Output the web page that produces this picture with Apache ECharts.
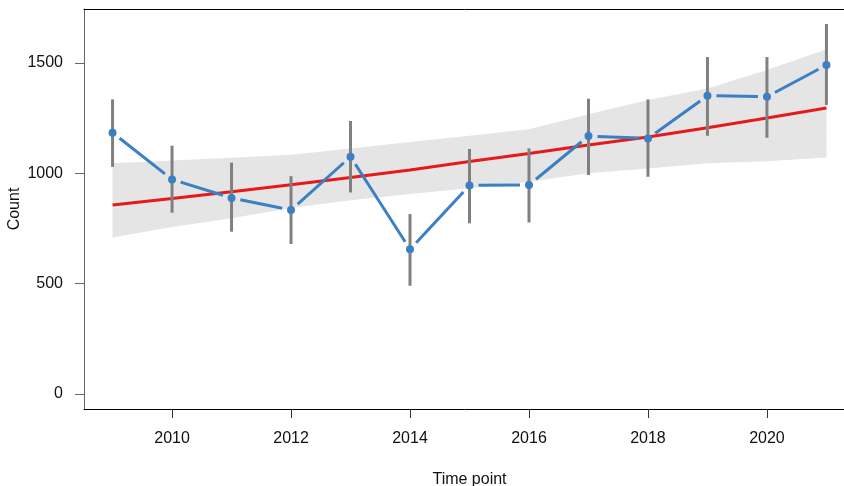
<!DOCTYPE html>
<html>
<head>
<meta charset="utf-8">
<script src="https://cdn.jsdelivr.net/npm/echarts@6/dist/echarts.min.js"></script>
<style>
  html, body {margin: 0; padding: 0; background: #fff;}
  #chart {width: 844px; height: 486px;}
</style>
</head>
<body>
<div id="chart"></div>
<script>
// time points and observed counts
const years = [2009, 2010, 2011, 2012, 2013, 2014, 2015, 2016, 2017, 2018, 2019, 2020, 2021];
const counts = [1184, 972, 888, 833, 1075, 655, 945, 947, 1169, 1158, 1352, 1347, 1491];
// error bar ends
const barLow = [1029, 821, 735, 679, 913, 490, 773, 777, 992, 984, 1170, 1161, 1310];
const barHigh = [1335, 1125, 1048, 987, 1237, 815, 1110, 1113, 1338, 1335, 1527, 1527, 1677];
// fitted trend and its band
const fitted = [856, 886, 916, 948, 981, 1015, 1053, 1090, 1128, 1165, 1206, 1251, 1296];
const bandLow = [709, 756, 796, 843, 878, 906, 932, 962, 1000, 1022, 1045, 1055, 1071];
const bandHigh = [1046, 1058, 1070, 1084, 1112, 1142, 1170, 1200, 1268, 1332, 1385, 1468, 1563];
// tick labels
const xTicks = [2010, 2012, 2014, 2016, 2018, 2020];
const yTicks = [0, 500, 1000, 1500];

const font = '"Liberation Sans", Arial, sans-serif';
const myChart = echarts.init(document.getElementById('chart'));

// gap left around every point on the connecting line
const gap = 9;

let option = {
    animation: false,
    grid: {left: 84, top: 9, right: -11, bottom: 77, containLabel: false, outerBoundsMode: 'none'},
    xAxis: [
        {
            type: 'value',
            min: 2008.52,
            max: 2021.48,
            name: 'Time point',
            nameLocation: 'middle',
            nameGap: 63,
            nameMoveOverlap: false,
            nameTextStyle: {color: '#111', fontSize: 16, fontFamily: font},
            axisLine: {show: true, onZero: false, lineStyle: {color: '#000', width: 1}},
            axisTick: {show: true, length: 9, customValues: xTicks, lineStyle: {color: '#333'}},
            axisLabel: {customValues: xTicks, margin: 22, color: '#111', fontSize: 16, fontFamily: font,
                formatter: v => String(v)},
            splitLine: {show: false}
        },
        {
            type: 'value',
            position: 'top',
            min: 2008.52,
            max: 2021.48,
            axisLine: {show: true, onZero: false, lineStyle: {color: '#000', width: 1}},
            axisTick: {show: false},
            axisLabel: {show: false},
            splitLine: {show: false}
        }
    ],
    yAxis: {
        type: 'value',
        min: -69,
        max: 1745,
        name: 'Count',
        nameLocation: 'middle',
        nameGap: 61,
        nameMoveOverlap: false,
        nameTextStyle: {color: '#111', fontSize: 16, fontFamily: font},
        axisLine: {show: true, onZero: false, lineStyle: {color: '#666', width: 1}},
        axisTick: {show: true, length: 9, customValues: yTicks, lineStyle: {color: '#666'}},
        axisLabel: {customValues: yTicks, margin: 21, color: '#111', fontSize: 16, fontFamily: font,
            formatter: v => String(v)},
        splitLine: {show: false}
    },
    series: [
        {
            // shaded band
            type: 'custom',
            z: 1,
            data: years.map((y, i) => [y, bandLow[i], bandHigh[i]]),
            renderItem: (params, api) => {
                if (params.dataIndex !== 0) return;
                let pts = [];
                years.forEach((y, i) => pts.push(api.coord([y, bandHigh[i]])));
                for (let i = years.length - 1; i >= 0; i--) pts.push(api.coord([years[i], bandLow[i]]));
                return {type: 'polygon', shape: {points: pts}, style: {fill: '#e5e5e5'}};
            }
        },
        {
            // fitted trend
            type: 'line',
            z: 2,
            data: years.map((y, i) => [y, fitted[i]]),
            showSymbol: false,
            lineStyle: {color: '#e41a1c', width: 3}
        },
        {
            // error bars
            type: 'custom',
            z: 3,
            data: years.map((y, i) => [y, barLow[i], barHigh[i]]),
            renderItem: (params, api) => {
                let a = api.coord([api.value(0), api.value(1)]);
                let b = api.coord([api.value(0), api.value(2)]);
                return {
                    type: 'line',
                    shape: {x1: a[0], y1: a[1], x2: b[0], y2: b[1]},
                    style: {stroke: '#808080', lineWidth: 3}
                };
            }
        },
        {
            // broken line between points
            type: 'custom',
            z: 4,
            data: years.map((y, i) => [y, counts[i]]),
            renderItem: (params, api) => {
                let i = params.dataIndex;
                if (i >= years.length - 1) return;
                let a = api.coord([years[i], counts[i]]);
                let b = api.coord([years[i + 1], counts[i + 1]]);
                let dx = b[0] - a[0], dy = b[1] - a[1];
                let len = Math.sqrt(dx * dx + dy * dy);
                if (len <= 2 * gap) return;
                let ux = dx / len, uy = dy / len;
                return {
                    type: 'line',
                    shape: {x1: a[0] + ux * gap, y1: a[1] + uy * gap, x2: b[0] - ux * gap, y2: b[1] - uy * gap},
                    style: {stroke: '#3a80c2', lineWidth: 3}
                };
            }
        },
        {
            type: 'scatter',
            z: 5,
            data: years.map((y, i) => [y, counts[i]]),
            symbolSize: 8,
            itemStyle: {color: '#3a80c2', opacity: 1}
        }
    ]
};

myChart.setOption(option);
</script>
</body>
</html>
